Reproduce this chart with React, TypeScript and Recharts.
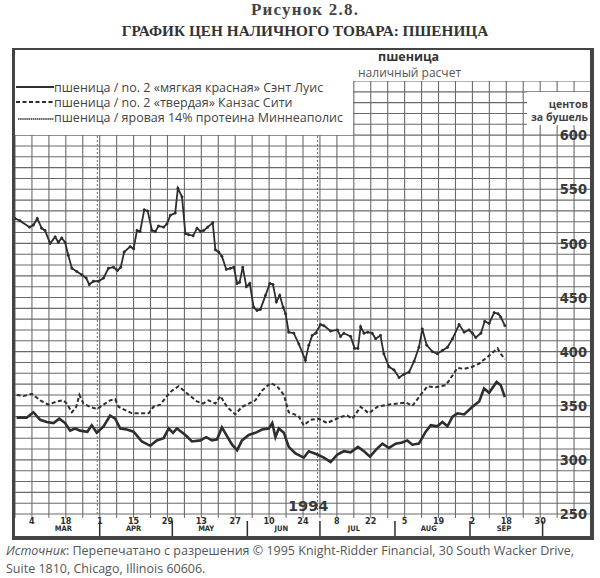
import { LineChart, Line, XAxis, YAxis, CartesianGrid, ReferenceLine } from 'recharts';

// x = trading day counted from 4 March 1994 (day 0), y = cents per bushel
const dayLabelDays = [0, 14, 28, 42, 56, 70, 84, 98, 112, 126, 140, 154, 168, 182, 196, 210];
const dayLabels = ['4', '18', '1', '15', '29', '13', '27', '10', '24', '8', '22', '5', '19', '2', '18', '30'];
const monthMidDays = [13, 42, 72, 103, 133, 164, 195];
const monthNames = ['MAR', 'APR', 'MAY', 'JUN', 'JUL', 'AUG', 'SEP'];
const monthStartDays = [28, 58, 89, 119, 150, 181, 211];
const quarterMarks = [27, 118];
const priceLabels = [250, 300, 350, 400, 450, 500, 550, 600];

// spring 14% protein, Minneapolis
const minneapolis: [number, number][] = [
  [-7, 523], [-5, 521], [-1, 515], [0.6, 517], [2.2, 523], [4, 514], [5.4, 512], [7.5, 500],
  [9.6, 506], [10.9, 501], [12.3, 505], [13.7, 501], [15, 489], [16.5, 477], [18.5, 474],
  [20.6, 471], [22.4, 468], [23.7, 462], [25.4, 465], [27.5, 465], [29.6, 468], [31.6, 477],
  [33.7, 478], [35.3, 475], [36.7, 478], [38.1, 492], [40.6, 497], [42, 495], [43.4, 512],
  [44.7, 511], [46.4, 531], [47.8, 530], [49.6, 512], [51, 511], [52.3, 516], [54.4, 515],
  [55.8, 518], [57.2, 526], [59.2, 528], [60.3, 551], [62, 543], [63.4, 509], [64.7, 508],
  [66.6, 507], [68.2, 514], [69.6, 511], [71, 512], [72.6, 515], [74.7, 519], [75.8, 494],
  [77.2, 492], [78.5, 488], [80.3, 476], [82, 477], [83.4, 478], [84.8, 463], [85.8, 464],
  [87.1, 478], [88.6, 460], [90, 463], [91.6, 441], [93, 438], [94.4, 439], [96.5, 452],
  [98.3, 463], [99.6, 462], [101, 446], [102.4, 452], [103.8, 441], [104.8, 435], [106.1, 418],
  [108.2, 417], [110.3, 407], [113, 392], [114.4, 406], [115.8, 415], [117.2, 417], [119.2, 425],
  [120.6, 424], [123.4, 419], [126.2, 420], [127.5, 414], [128.9, 417], [131.7, 414], [133.3, 403],
  [134.7, 403], [135.8, 423], [137.2, 417], [138.8, 418], [140.6, 417], [142, 412], [144, 415],
  [145.4, 398], [147.5, 386], [149.6, 383], [151.7, 376], [153.7, 379], [155.8, 381], [157.9, 391],
  [159.9, 404], [161.3, 421], [163.1, 406], [165.5, 400], [167.5, 398], [169.6, 401], [171.7, 404],
  [173.8, 412], [176.5, 425], [178.6, 418], [180.6, 420], [182, 417], [183.4, 413], [185.5, 417],
  [187.1, 428], [188.9, 426], [191, 436], [192.6, 435], [193.7, 432], [195.4, 424],
];

// no. 2 hard, Kansas City
const kansasCity: [number, number][] = [
  [-6.3, 360], [-3.5, 359], [0, 361], [3.4, 355], [6.8, 351], [10.3, 354], [13, 355], [14.4, 352],
  [16.5, 344], [18.3, 349], [19.6, 360], [21.3, 352], [24, 349], [26.8, 347], [29.6, 351],
  [32.3, 355], [34.4, 356], [35.8, 349], [38.5, 346], [41.3, 343], [44.7, 343], [48.2, 343],
  [50.2, 349], [53, 351], [55.8, 359], [57.9, 364], [60.6, 368], [62.7, 364], [65.4, 359],
  [68.2, 354], [70.7, 352], [73, 355], [75.8, 352], [77.9, 359], [80.6, 349], [84, 342],
  [86.8, 349], [89.6, 352], [92.3, 355], [95.1, 364], [98.6, 371], [101.3, 368], [104.1, 360],
  [106.1, 344], [108.5, 342], [110.3, 340], [112.3, 332], [115.1, 337], [118.5, 338], [122, 334],
  [124.8, 337], [128.2, 340], [130.3, 341], [132.4, 338], [135.8, 349], [139.2, 343], [142.7, 349],
  [146.8, 351], [151, 352], [154.4, 353], [157.2, 350], [160.6, 360], [163.4, 368], [166.8, 367],
  [171, 369], [173.8, 378], [175.8, 385], [178.6, 384], [182, 386], [184.8, 389], [188.2, 395],
  [192.4, 403], [193.7, 398], [195.4, 393],
];

// no. 2 soft red, St. Louis
const stLouis: [number, number][] = [
  [-6.3, 339], [-2.2, 339], [0.6, 344], [3.4, 337], [6.1, 335], [8.9, 334], [11.3, 338], [13.7, 334],
  [15.8, 327], [17.8, 329], [19.9, 327], [22.9, 326], [24.7, 332], [26.8, 325], [29.6, 331],
  [32.3, 341], [34.4, 338], [36.5, 329], [39.2, 328], [42, 326], [45.4, 317], [48.9, 313],
  [51.6, 318], [54.4, 320], [56.5, 329], [58.3, 325], [59.9, 329], [63.4, 323], [66.1, 317],
  [69.6, 318], [72, 321], [74.4, 318], [76.5, 319], [78.5, 330], [80.6, 322], [82.7, 314],
  [84.8, 309], [86.8, 318], [89.6, 323], [92.3, 325], [95.1, 328], [97.9, 329], [99.3, 334],
  [100.6, 321], [102, 329], [104.1, 325], [106.1, 312], [108.9, 306], [112.3, 302], [114.4, 308],
  [117.9, 305], [120.6, 302], [123.4, 298], [126.2, 305], [128.9, 308], [131.7, 307], [134.7, 312],
  [137.2, 308], [139.7, 303], [142, 309], [144.8, 315], [147.5, 311], [150.3, 315], [153, 316],
  [155.1, 318], [157.2, 314], [159.9, 315], [162.7, 326], [164.8, 332], [167.5, 331], [169.6, 335],
  [171.7, 331], [173.8, 340], [175.8, 343], [178.6, 342], [182, 349], [184.8, 354], [186.8, 366],
  [188.9, 362], [192, 372], [193.7, 369], [195.4, 358],
];

const toRows = (pts: [number, number][]) => pts.map(([d, v]) => ({ d, v }));

const weekTicks = Array.from({ length: 35 }, (_, i) => -7 + i * 7);
const priceGrid = Array.from({ length: 41 }, (_, i) => 250 + i * 10);

const INK = '#2e2e2e';
const GRID = '#6a6a6a';
const sans = '"Open Sans", "Noto Sans", sans-serif';
const cond = '"DejaVu Sans Condensed", "DejaVu Sans", sans-serif';

function LegendSample({ kind }: { kind: 'solid' | 'dashed' | 'dots' }) {
  return (
    <svg width={38} height={8} style={{ position: 'absolute', left: 16, top: 5 }}>
      {kind === 'solid' && <line x1={0} y1={4} x2={38} y2={4} stroke={INK} strokeWidth={2} />}
      {kind === 'dashed' && <line x1={0} y1={4} x2={38} y2={4} stroke={INK} strokeWidth={2} strokeDasharray="4 2.5" />}
      {kind === 'dots' && <line x1={2} y1={6} x2={38} y2={6} stroke={INK} strokeWidth={1.6} strokeDasharray="1.5 0.6" />}
    </svg>
  );
}

export default function App() {
  const xFmt = (v: number) => {
    const i = dayLabelDays.indexOf(v);
    return i >= 0 ? dayLabels[i] : '';
  };
  const mFmt = (v: number) => {
    const i = monthMidDays.indexOf(v);
    return i >= 0 ? monthNames[i] : '';
  };
  const yFmt = (v: number) => (priceLabels.includes(v) ? String(v) : '');

  const legendRows: { kind: 'solid' | 'dashed' | 'dots'; text: string; top: number }[] = [
    { kind: 'solid', text: 'пшеница / no. 2 «мягкая красная» Сэнт Луис', top: 78 },
    { kind: 'dashed', text: 'пшеница / no. 2 «твердая» Канзас Сити', top: 93 },
    { kind: 'dots', text: 'пшеница / яровая 14% протеина Миннеаполис', top: 108 },
  ];

  const slRows = toRows(stLouis);

  return (
    <div style={{ position: 'relative', width: 600, height: 578, background: '#fff', overflow: 'hidden' }}>
      <style>{'body{margin:0}'}</style>

      <div style={{ position: 'absolute', top: 0, width: 600, paddingLeft: 10, boxSizing: 'border-box', textAlign: 'center', fontFamily: '"Liberation Serif", serif', fontWeight: 'bold', fontSize: 17, letterSpacing: 1.2, lineHeight: '20px', color: '#444' }}>
        Рисунок 2.8.
      </div>
      <div style={{ position: 'absolute', top: 21, width: 600, paddingLeft: 10, boxSizing: 'border-box', textAlign: 'center', fontFamily: '"Liberation Serif", serif', fontWeight: 'bold', fontSize: 15.3, lineHeight: '20px', color: '#333' }}>
        ГРАФИК ЦЕН НАЛИЧНОГО ТОВАРА: ПШЕНИЦА
      </div>

      <LineChart width={600} height={578} margin={{ top: 81, right: 9, bottom: 56, left: 15 }}>
        <CartesianGrid stroke={GRID} strokeWidth={1.1} />
        <XAxis
          dataKey="d"
          type="number"
          domain={[-7, 231]}
          ticks={weekTicks}
          height={6}
          axisLine={false}
          tickSize={4}
          tickLine={{ stroke: GRID }}
          tickMargin={0}
          interval={0}
          tickFormatter={xFmt}
          tick={{ fontFamily: cond, fontWeight: 'bold', fontSize: 9, fill: INK }}
        />
        <XAxis
          xAxisId="sep"
          dataKey="d"
          type="number"
          domain={[-7, 231]}
          allowDataOverflow
          ticks={monthStartDays}
          height={1}
          axisLine={false}
          tickSize={16}
          tickLine={{ stroke: INK, strokeWidth: 1.5 }}
          interval={0}
          tickFormatter={() => ''}
        />
        <XAxis
          xAxisId="month"
          dataKey="d"
          type="number"
          domain={[-7, 231]}
          allowDataOverflow
          ticks={monthMidDays}
          height={1}
          axisLine={false}
          tickLine={false}
          tickSize={0}
          tickMargin={6}
          interval={0}
          tickFormatter={mFmt}
          tick={{ fontFamily: cond, fontWeight: 'bold', fontSize: 7.5, fill: INK }}
        />
        <YAxis
          type="number"
          orientation="right"
          mirror
          width={1}
          domain={[250, 650]}
          ticks={priceGrid}
          interval={0}
          axisLine={false}
          tickLine={false}
          tickSize={0}
          tickMargin={4}
          tickFormatter={yFmt}
          tick={{ fontFamily: cond, fontWeight: 'bold', fontSize: 14.5, fill: '#3a3a3a' }}
        />
        {quarterMarks.map((q) => (
          <ReferenceLine key={q} x={q} stroke={GRID} strokeDasharray="2 2" strokeWidth={1} />
        ))}
        {/* invisible series so the calendar axes get a scale */}
        <Line xAxisId="sep" data={slRows} dataKey="v" stroke="none" dot={false} activeDot={false} legendType="none" isAnimationActive={false} />
        <Line xAxisId="month" data={slRows} dataKey="v" stroke="none" dot={false} activeDot={false} legendType="none" isAnimationActive={false} />
        <Line
          data={toRows(minneapolis)}
          dataKey="v"
          type="linear"
          stroke={INK}
          strokeWidth={1.8}
          dot={{ r: 1.2, fill: INK, stroke: INK, strokeWidth: 0.5 }}
          isAnimationActive={false}
        />
        <Line
          data={toRows(kansasCity)}
          dataKey="v"
          type="linear"
          stroke={INK}
          strokeWidth={2}
          strokeDasharray="4 2.5"
          dot={false}
          isAnimationActive={false}
        />
        <Line
          data={slRows}
          dataKey="v"
          type="linear"
          stroke={INK}
          strokeWidth={2.6}
          dot={false}
          isAnimationActive={false}
        />
      </LineChart>

      {/* white panels over the grid: legend, chart caption, units */}
      <div style={{ position: 'absolute', left: 15, top: 50, width: 338, height: 85, background: '#fff' }} />
      <div style={{ position: 'absolute', left: 353, top: 50, width: 237, height: 31, background: '#fff' }} />
      <div style={{ position: 'absolute', left: 527, top: 92, width: 63, height: 33, background: '#fff' }} />

      {legendRows.map((r) => (
        <div key={r.text} style={{ position: 'absolute', left: 0, top: r.top, height: 15 }}>
          <LegendSample kind={r.kind} />
          <div style={{ position: 'absolute', left: 54, top: 1.5, lineHeight: '15px', whiteSpace: 'nowrap', fontFamily: sans, fontSize: 12.5, color: '#444' }}>
            {r.text}
          </div>
        </div>
      ))}

      <div style={{ position: 'absolute', left: 378, top: 50, lineHeight: '14px', fontFamily: sans, fontWeight: 'bold', fontSize: 12.5, color: '#333' }}>пшеница</div>
      <div style={{ position: 'absolute', left: 358, top: 66, lineHeight: '14px', fontFamily: sans, fontSize: 12, color: '#555' }}>наличный расчет</div>
      <div style={{ position: 'absolute', right: 12, top: 98, lineHeight: '12px', fontFamily: sans, fontWeight: 'bold', fontSize: 10.5, color: '#444' }}>центов</div>
      <div style={{ position: 'absolute', right: 12, top: 111, lineHeight: '12px', fontFamily: sans, fontWeight: 'bold', fontSize: 10.5, color: '#444' }}>за бушель</div>

      <div style={{ position: 'absolute', left: 288, top: 498, fontFamily: '"DejaVu Sans", sans-serif', fontWeight: 'bold', fontSize: 14.5, color: '#3a3a3a' }}>1994</div>

      {/* frame */}
      <div style={{ position: 'absolute', left: 12, top: 48, width: 575, height: 486, borderStyle: 'solid', borderColor: '#444', borderWidth: '2px 4px 4px 3px', pointerEvents: 'none' }} />

      <div style={{ position: 'absolute', left: 6, top: 542, width: 594, fontFamily: sans, fontSize: 12.5, lineHeight: '18px', color: '#555', whiteSpace: 'nowrap' }}>
        <i>Источник</i>: Перепечатано с разрешения © 1995 Knight-Ridder Financial, 30 South Wacker Drive,<br />
        Suite 1810, Chicago, Illinois 60606.
      </div>
    </div>
  );
}
